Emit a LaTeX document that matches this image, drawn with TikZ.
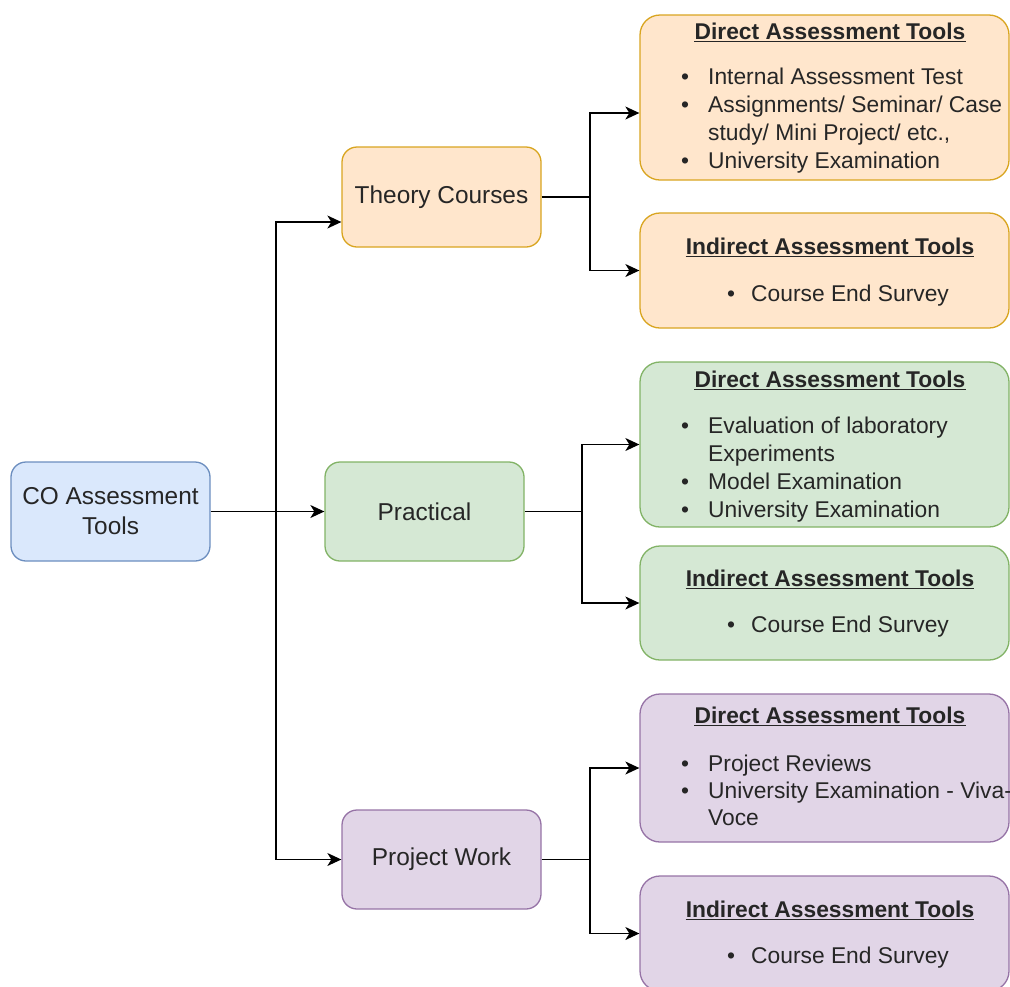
\documentclass[tikz,border=0pt]{standalone}
\usepackage{fontspec}
\setmainfont{Liberation Sans}
\usetikzlibrary{arrows.meta}
\definecolor{txt}{HTML}{262626}
\definecolor{bluef}{HTML}{DAE8FC}\definecolor{blued}{HTML}{6C8EBF}
\definecolor{oranf}{HTML}{FFE6CC}\definecolor{orand}{HTML}{D9A520}
\definecolor{grnf}{HTML}{D5E8D4}\definecolor{grnd}{HTML}{82B366}
\definecolor{purf}{HTML}{E1D5E7}\definecolor{purd}{HTML}{9673A6}
\begin{document}
\begin{tikzpicture}[x=1pt,y=-1pt,
 box/.style={draw, rounded corners=15pt, line width=1.3pt, text=txt, font=\fontsize{24.4}{30}\selectfont, align=center, inner sep=0, minimum width=199pt, minimum height=99pt},
 rbox/.style={draw, rounded corners=20pt, line width=1.3pt, minimum width=369pt, inner sep=0},
 hd/.style={anchor=base, inner sep=0, text=txt, font=\fontsize{22.8}{28}\selectfont\bfseries},
 itm/.style={anchor=base west, inner sep=0, text=txt, font=\fontsize{22.8}{28}\selectfont},
 bul/.style={anchor=base, inner sep=0, text=txt, font=\fontsize{22.8}{28}\selectfont},
 ul/.style={line width=1pt, draw=txt},
 conn/.style={line width=1.4pt},
 arr/.style={conn, -{Stealth[length=14pt,width=13pt,inset=4pt]}}
]
\useasboundingbox (0,0) rectangle (1010,986);
\clip (0,0) rectangle (1010,986);

% left / middle nodes
\node[box, fill=bluef, draw=blued] (co) at (110.5,511.5) {CO Assessment\\Tools};
\node[box, fill=oranf, draw=orand, minimum height=100pt] (th) at (441.5,197) {Theory Courses};
\node[box, fill=grnf, draw=grnd] (pr) at (424.5,511.5) {Practical};
\node[box, fill=purf, draw=purd] (pw) at (441.5,859.5) {Project Work};

% right boxes
\node[rbox, fill=oranf, draw=orand, minimum height=165pt] (tdir) at (824.5,97.5) {};
\node[rbox, fill=oranf, draw=orand, minimum height=115pt] (tind) at (824.5,270.5) {};
\node[rbox, fill=grnf, draw=grnd, minimum height=165pt] (pdir) at (824.5,444.5) {};
\node[rbox, fill=grnf, draw=grnd, minimum height=114pt] (pind) at (824.5,603) {};
\node[rbox, fill=purf, draw=purd, minimum height=148pt] (jdir) at (824.5,768) {};
\node[rbox, fill=purf, draw=purd, minimum height=115pt] (jind) at (824.5,933.5) {};

% theory direct
\node[hd] (h1) at (830,39) {Direct Assessment Tools};
\draw[ul] ([yshift=-2.5pt]h1.base west) -- ([yshift=-2.5pt]h1.base east);
\node[bul] (b11) at (685,84) {•};
\node[itm] (i11) at (708,84) {Internal Assessment Test};
\node[bul] (b12) at (685,112) {•};
\node[itm] (i12) at (708,112) {Assignments/ Seminar/ Case};
\node[itm] (i13) at (708,140) {study/ Mini Project/ etc.,};
\node[bul] (b14) at (685,168) {•};
\node[itm] (i14) at (708,168) {University Examination};

% theory indirect
\node[hd] (h2) at (830,254) {Indirect Assessment Tools};
\draw[ul] ([yshift=-2.5pt]h2.base west) -- ([yshift=-2.5pt]h2.base east);
\node[bul] (b21) at (731,301) {•};
\node[itm] (i21) at (751,301) {Course End Survey};

% practical direct
\node[hd] (h3) at (830,387) {Direct Assessment Tools};
\draw[ul] ([yshift=-2.5pt]h3.base west) -- ([yshift=-2.5pt]h3.base east);
\node[bul] (b31) at (685,433) {•};
\node[itm] (i31) at (708,433) {Evaluation of laboratory};
\node[itm] (i32) at (708,461) {Experiments};
\node[bul] (b33) at (685,489) {•};
\node[itm] (i33) at (708,489) {Model Examination};
\node[bul] (b34) at (685,517) {•};
\node[itm] (i34) at (708,517) {University Examination};

% practical indirect
\node[hd] (h4) at (830,586) {Indirect Assessment Tools};
\draw[ul] ([yshift=-2.5pt]h4.base west) -- ([yshift=-2.5pt]h4.base east);
\node[bul] (b41) at (731,632) {•};
\node[itm] (i41) at (751,632) {Course End Survey};

% project direct
\node[hd] (h5) at (830,723) {Direct Assessment Tools};
\draw[ul] ([yshift=-2.5pt]h5.base west) -- ([yshift=-2.5pt]h5.base east);
\node[bul] (b51) at (685,771) {•};
\node[itm] (i51) at (708,771) {Project Reviews};
\node[bul] (b52) at (685,798) {•};
\node[itm] (i52) at (708,798) {University Examination - Viva-};
\node[itm] (i53) at (708,825) {Voce};

% project indirect
\node[hd] (h6) at (830,917) {Indirect Assessment Tools};
\draw[ul] ([yshift=-2.5pt]h6.base west) -- ([yshift=-2.5pt]h6.base east);
\node[bul] (b61) at (731,963) {•};
\node[itm] (i61) at (751,963) {Course End Survey};

% connectors
\coordinate (trunk) at (276,511.5);
\draw[arr] (co.east) -- (pr.west);
\draw[arr] (trunk) |- ([yshift=-25pt]th.west);
\draw[arr] (trunk) |- (pw.west);

\coordinate (tj) at (590,197);
\draw[conn] (th.east) -- (tj);
\draw[arr] (tj) |- ([yshift=-15.5pt]tdir.west);
\draw[arr] (tj) |- (tind.west);

\coordinate (pj) at (582,511.5);
\draw[conn] (pr.east) -- (pj);
\draw[arr] (pj) |- (pdir.west);
\draw[arr] (pj) |- (pind.west);

\coordinate (jj) at (590,859.5);
\draw[conn] (pw.east) -- (jj);
\draw[arr] (jj) |- (jdir.west);
\draw[arr] (jj) |- (jind.west);
\end{tikzpicture}
\end{document}
